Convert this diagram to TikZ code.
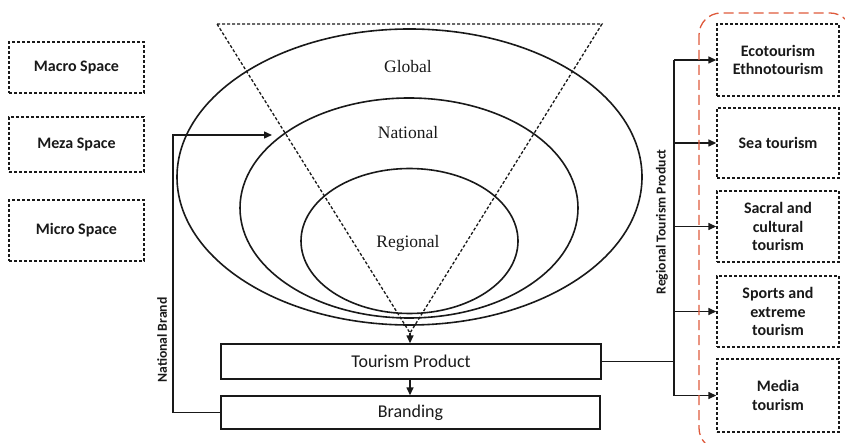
\documentclass[tikz,border=0pt]{standalone}
\usepackage{fontspec}
\setmainfont{Carlito}
\newfontfamily\serifx{Liberation Serif}
\usetikzlibrary{arrows.meta}
\definecolor{frame}{RGB}{222,90,60}
\definecolor{ink}{RGB}{25,25,25}
\begin{document}
\begin{tikzpicture}[x=1pt,y=-1pt,
  line width=1.5pt, draw=ink, text=ink,
  spacebox/.style={draw, line width=1.4pt, dash pattern=on 3pt off 2pt, font=\fontsize{16}{18.5}\selectfont\bfseries, align=center, inner sep=0pt},
  flowbox/.style={draw, line width=1.4pt, minimum width=380pt, inner sep=0pt, font=\fontsize{18}{20}\selectfont},
  ring/.style={line width=1.6pt},
  lvl/.style={font=\serifx\fontsize{17.5}{20}\selectfont},
  sidelabel/.style={rotate=90, font=\fontsize{13.7}{15}\selectfont\bfseries},
  arr/.style={-{Triangle[length=8pt,width=7pt]}, line width=1.4pt},
]
\useasboundingbox (0,0) rectangle (845,443);

% spatial levels on the left
\node[spacebox, minimum width=135pt, minimum height=51pt] (macro) at (76.5,67.5) {Macro Space};
\node[spacebox, minimum width=135pt, minimum height=55pt] (meza) at (76.5,144.5) {Meza Space};
\node[spacebox, minimum width=135pt, minimum height=61pt] (micro) at (76.5,230.5) {Micro Space};

% nested levels
\draw[ring] (409.5,177) ellipse [x radius=232.5pt, y radius=148pt];
\draw[ring] (409,208) ellipse [x radius=169pt, y radius=110pt];
\draw[ring] (409.5,241) ellipse [x radius=108.5pt, y radius=72.5pt];
\node[lvl] (global) at (408,67) {Global};
\node[lvl] (national) at (408,133) {National};
\node[lvl] (regional) at (408,243) {Regional};

% funnel
\coordinate (fl) at (217,24);
\coordinate (fr) at (602,24);
\coordinate (apex) at (410,333);
\draw[dash pattern=on 3pt off 2pt, line width=1.3pt] (fl) -- (fr) -- (apex) -- cycle;

% product and branding
\node[flowbox, minimum height=35pt] (tp) at (411,361.5) {Tourism Product};
\node[flowbox, minimum height=33pt, minimum width=379pt] (br) at (410.5,412.5) {Branding};
\draw[arr] (apex) -- (apex |- tp.north);
\draw[arr] (tp.south -| apex) -- (br.north -| apex);

% national brand feedback
\coordinate (nbcorner) at (173,135);
\coordinate (nbend) at (272,135);
\draw[arr] (br.west) -- (nbcorner |- br.west) -- (nbcorner) -- (nbend);
\node[sidelabel] (nblabel) at (162,340) {National Brand};

% regional tourism products
\node[spacebox, minimum width=122pt, minimum height=72pt] (eco) at (778,60) {Ecotourism\\Ethnotourism};
\node[spacebox, minimum width=122pt, minimum height=70pt] (sea) at (778,143) {Sea tourism};
\node[spacebox, minimum width=122pt, minimum height=71pt] (sacral) at (778,226.5) {Sacral and\\cultural\\tourism};
\node[spacebox, minimum width=122pt, minimum height=71pt] (sport) at (778,311.5) {Sports and\\extreme\\tourism};
\node[spacebox, minimum width=122pt, minimum height=73pt] (media) at (778,395.5) {Media\\tourism};

\coordinate (bus) at (674,361.5);
\draw[line width=1.4pt] (tp.east) -- (bus);
\draw[line width=1.4pt] (bus |- eco.west) -- (bus |- media.west);
\foreach \b in {eco,sea,sacral,sport,media}
  \draw[arr] (bus |- \b.west) -- (\b.west);
\node[sidelabel] (rtplabel) at (662,222) {Regional Tourism Product};

% grouping frame
\begin{scope}
  \clip (0,0) rectangle (845,443);
  \draw[frame, line width=1.3pt, dash pattern=on 10pt off 5pt, rounded corners=22pt] (699,13) rectangle (852,450);
\end{scope}
\end{tikzpicture}
\end{document}
